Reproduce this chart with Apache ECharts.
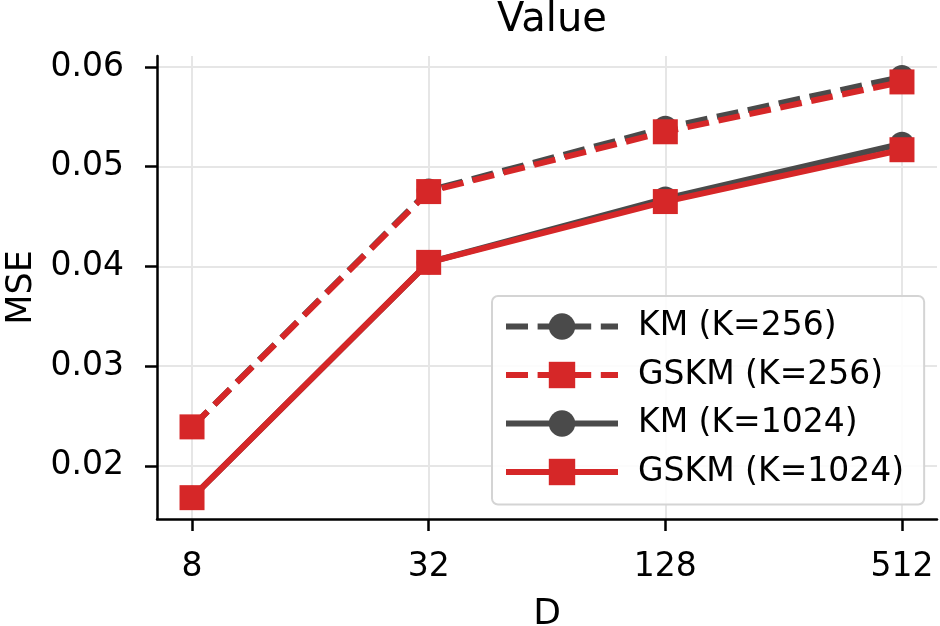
<!DOCTYPE html>
<html>
<head>
<meta charset="utf-8">
<script src="https://cdn.jsdelivr.net/npm/echarts@6/dist/echarts.min.js"></script>
<style>
  html, body { margin: 0; padding: 0; background: #fff; }
  #chart { width: 940px; height: 626px; }
</style>
</head>
<body>
<div id="chart"></div>
<script>
// D values, shown evenly spaced (log scale in the original)
var dLabels = ["8", "32", "128", "512"];
var yTicks = [0.02, 0.03, 0.04, 0.05, 0.06];

var km256 = [0.0239, 0.0476, 0.0539, 0.0590];
var gskm256 = [0.0239, 0.0475, 0.0535, 0.0585];
var km1024 = [0.0168, 0.0404, 0.0468, 0.0523];
var gskm1024 = [0.0168, 0.0404, 0.0465, 0.0517];

var GRAY = "#4a4a4a";
var RED = "#d62728";
var FONT = "DejaVu Sans";
var DASH = [22, 9.6];

function pts(arr) {
  return arr.map(function (v, i) { return [i, v]; });
}

function makeSeries(name, arr, color, symbol, size, dashed) {
  return {
    name: name,
    type: "line",
    data: pts(arr),
    symbol: symbol,
    symbolSize: size,
    showSymbol: true,
    lineStyle: {
      color: color,
      width: 6,
      type: dashed ? DASH : "solid",
      cap: "butt"
    },
    itemStyle: { color: color },
    emphasis: { disabled: true },
    animation: false
  };
}

var chart = echarts.init(document.getElementById("chart"), null, { renderer: "canvas" });

chart.setOption({
  backgroundColor: "#fff",
  textStyle: { fontFamily: FONT, color: "#000" },
  title: {
    text: "Value",
    left: 547,
    textAlign: "center",
    top: -4,
    textStyle: { fontFamily: FONT, fontSize: 40, fontWeight: "normal", color: "#000" }
  },
  grid: {
    left: 157,
    right: 3,
    top: 56,
    bottom: 107,
    containLabel: false,
    outerBoundsMode: "none"
  },
  legend: {
    left: 492,
    top: 296,
    orient: "vertical",
    itemWidth: 112,
    itemHeight: 33,
    itemGap: 15.5,
    padding: [14, 20, 16, 11],
    backgroundColor: "rgba(255,255,255,0.85)",
    borderColor: "#d4d4d4",
    borderWidth: 2,
    borderRadius: 6,
    lineStyle: { width: 6 },
    textStyle: { fontFamily: FONT, fontSize: 33, color: "#000", padding: [0, 0, 0, 15] },
    data: ["KM (K=256)", "GSKM (K=256)", "KM (K=1024)", "GSKM (K=1024)"]
  },
  xAxis: {
    type: "value",
    min: -0.148,
    max: 3.148,
    name: "D",
    nameLocation: "middle",
    nameGap: 78,
    nameTextStyle: { fontFamily: FONT, fontSize: 36, color: "#000" },
    axisLine: { show: true, onZero: false, lineStyle: { color: "#000", width: 2.5 } },
    axisTick: { show: true, customValues: [0, 1, 2, 3], length: 12, lineStyle: { color: "#000", width: 2.5 } },
    axisLabel: {
      customValues: [0, 1, 2, 3],
      margin: 32,
      fontFamily: FONT,
      fontSize: 33,
      color: "#000",
      formatter: function (v) { return dLabels[Math.round(v)]; }
    },
    splitLine: { show: true, lineStyle: { color: "#e6e6e6", width: 2 } }
  },
  yAxis: {
    type: "value",
    min: 0.01466,
    max: 0.0611,
    name: "MSE",
    nameLocation: "middle",
    nameGap: 116,
    nameTextStyle: { fontFamily: FONT, fontSize: 35, color: "#000" },
    axisLine: { show: true, onZero: false, lineStyle: { color: "#000", width: 2.5 } },
    axisTick: { show: true, customValues: yTicks, length: 12, lineStyle: { color: "#000", width: 2.5 } },
    axisLabel: {
      customValues: yTicks,
      margin: 33,
      fontFamily: FONT,
      fontSize: 33,
      color: "#000",
      formatter: function (v) { return v.toFixed(2); }
    },
    splitLine: { show: true, lineStyle: { color: "#e6e6e6", width: 2 } }
  },
  series: [
    makeSeries("KM (K=256)", km256, GRAY, "circle", 24, true),
    makeSeries("GSKM (K=256)", gskm256, RED, "rect", 25, true),
    makeSeries("KM (K=1024)", km1024, GRAY, "circle", 24, false),
    makeSeries("GSKM (K=1024)", gskm1024, RED, "rect", 25, false)
  ]
});
</script>
</body>
</html>
